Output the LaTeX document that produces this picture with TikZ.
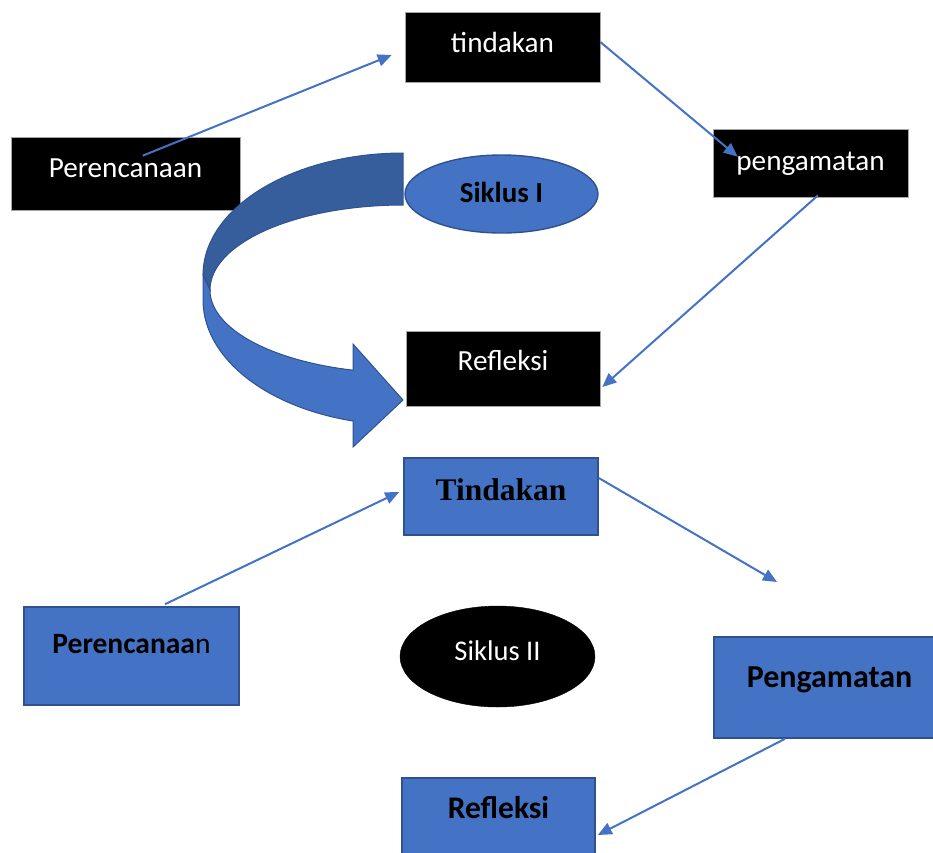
\documentclass[tikz,border=0pt]{standalone}
\usepackage{fontspec}
\setmainfont{Carlito}
\newfontfamily\serifbold{Liberation Serif}
\usetikzlibrary{arrows.meta,shapes.geometric,calc}
\definecolor{offblue}{HTML}{4472C4}
\definecolor{offline}{HTML}{2F528F}
\definecolor{offdark}{HTML}{365E9D}
\tikzset{
  txt/.style={font=\fontsize{29.2}{31}\selectfont},
  blackbox/.style={txt,rectangle,fill=black,draw=gray!70,line width=0.6pt,text=white,inner sep=0pt},
  bluebox/.style={txt,rectangle,fill=offblue,draw=offline,line width=1.6pt,text=black,inner sep=0pt},
  conn/.style={draw=offblue,line width=2pt,-{Triangle[length=14pt,width=12pt]}},
}
\begin{document}
\begin{tikzpicture}[x=1pt,y=-1pt]
\useasboundingbox (0,0) rectangle (933,852);
% ---- Siklus I ----
\node[blackbox,minimum width=195,text height=40pt,text depth=30pt] (tind1) at (502.5,47) {tindakan};
\node[blackbox,minimum width=229,text height=40pt,text depth=33pt] (per1) at (125.5,173.5) {Perencanaan};
\node[blackbox,minimum width=195,text height=41pt,text depth=27pt] (peng1) at (810.5,163) {pengamatan};
\node[blackbox,minimum width=194,text height=39pt,text depth=36pt] (refl1) at (503,368.5) {Refleksi};
% curved arrow: back (dark) band
\filldraw[fill=offdark,draw=offline,line width=1pt]
  (403,153) -- plot[domain=0:90,samples=50,variable=\t] ({403-200*sin(\t)},{275-122*cos(\t)})
  -- (210,290)
  -- plot[domain=0:90,samples=50,variable=\t] ({403-193*cos(\t)},{290-85*sin(\t)}) -- cycle;
% front (light) band with head
\filldraw[fill=offblue,draw=offline,line width=1pt]
  (203,275) -- (203,300)
  -- plot[domain=0:75.52,samples=50,variable=\t] ({403-200*cos(\t)},{300+125*sin(\t)})
  -- (353,447) -- (403,400) -- (353,344) -- (353,370)
  -- plot[domain=0:75,samples=50,variable=\t] ({403-193*cos(75-\t)},{290+83*sin(75-\t)}) -- cycle;
\node[ellipse,fill=offblue,draw=offline,line width=1.4pt,inner sep=0pt,minimum width=193,minimum height=78,
      text height=21pt,text depth=5pt,font=\fontsize{29}{31}\selectfont\bfseries] (sik1) at (501.5,194) {Siklus I};
\draw[conn] ($(per1.north west)+(132,19)$) -- ($(tind1.west)+(-13,8)$);
\draw[conn] ($(tind1.east)+(0,-5)$) -- ($(peng1.north west)+(25,28)$);
\draw[conn] ($(peng1.south)+(7.5,-2)$) -- ($(refl1.east)+(2,18.5)$);
% ---- Siklus II ----
\node[bluebox,minimum width=194,text height=42pt,text depth=35pt,font=\serifbold\fontsize{31.5}{33}\selectfont\bfseries] (tind2) at (501,496.5) {Tindakan};
\node[bluebox,minimum width=215,text height=46pt,text depth=52pt,font=\fontsize{29.5}{31}\selectfont] (per2) at (131.5,656) {\textbf{Perencanaa}n};
\node[bluebox,minimum width=231,text height=50pt,text depth=51pt,font=\fontsize{32}{34}\selectfont\bfseries] (peng2) at (829.5,687.5) {Pengamatan};
\node[bluebox,minimum width=193,text height=40pt,text depth=60pt,font=\fontsize{31.5}{33}\selectfont\bfseries] (refl2) at (498.5,828) {Refleksi};
\node[ellipse,fill=black,draw=black,inner sep=0pt,minimum width=195,minimum height=101,
      text height=18pt,text depth=10pt,text=white,font=\fontsize{28.5}{30}\selectfont] (sik2) at (497.5,656.5) {Siklus II};
\coordinate (pfree) at (777,582);
\draw[conn] ($(per2.north)+(33.5,-2)$) -- ($(tind2.west)+(-4,-4.5)$);
\draw[conn] ($(tind2.east)+(0,-18.5)$) -- (pfree);
\draw[conn] ($(peng2.south)+(-44.5,0)$) -- ($(refl2.east)+(2,7)$);
\end{tikzpicture}
\end{document}
